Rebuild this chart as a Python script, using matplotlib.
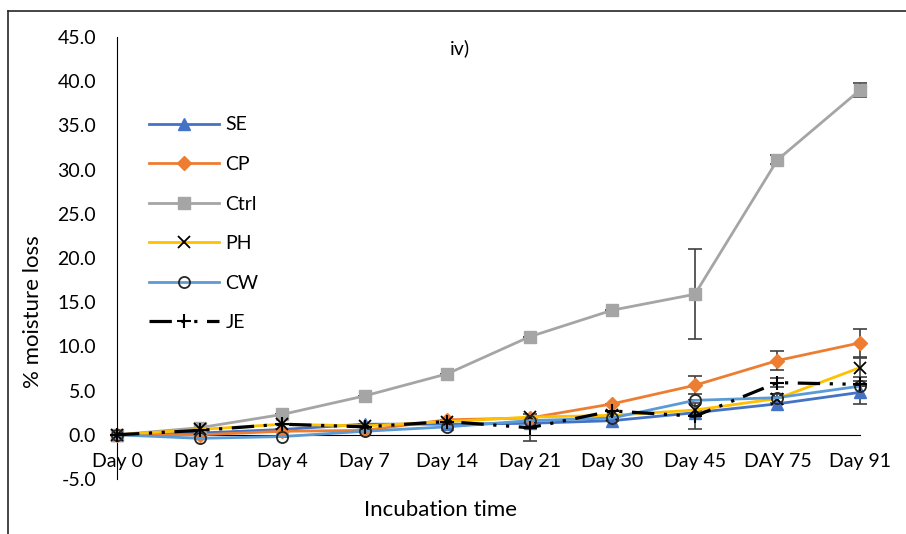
import numpy as np
import matplotlib
matplotlib.use('Agg')
import matplotlib.pyplot as plt
from matplotlib.lines import Line2D

plt.rcParams['font.family'] = ['Lato', 'DejaVu Sans']

days = ['Day 0', 'Day 1', 'Day 4', 'Day 7', 'Day 14', 'Day 21', 'Day 30', 'Day 45', 'DAY 75', 'Day 91']

SE = [0, 0.2, 0.6, 1.2, 1.2, 1.3, 1.6, 2.5, 3.5, 4.8]
CP = [0, 0.0, 0.4, 0.5, 1.7, 1.9, 3.5, 5.6, 8.4, 10.4]
Ctrl = [0, 0.8, 2.3, 4.4, 6.9, 11.1, 14.1, 15.9, 31.1, 39.0]
PH = [0, 0.6, 1.2, 1.0, 1.5, 2.0, 2.2, 2.8, 4.1, 7.6]
CW = [0, -0.4, -0.2, 0.4, 0.9, 1.6, 1.9, 3.9, 4.2, 5.5]
JE = [0, 0.5, 1.2, 0.9, 1.5, 0.8, 2.7, 2.1, 5.9, 5.7]

SE_err = [0, 0, 0, 0, 0, 0, 0, 0, 0, 1.3]
CP_err = [0, 0, 0, 0, 0, 0, 0, 1.0, 1.1, 1.6]
Ctrl_err = [0, 0, 0, 0, 0, 0, 0, 5.1, 0.5, 0.8]
PH_err = [0, 0, 0, 0, 0, 0, 0, 0, 0.5, 1.1]
CW_err = [0, 0, 0, 0, 0, 0, 0, 0, 0, 0]
JE_err = [0, 0, 0, 0, 0, 1.5, 0, 1.5, 0.5, 0]

series = [
    ('SE', SE, SE_err, dict(color='#4472C4', marker='^', ms=9, mfc='#4472C4', mec='#4472C4', lw=2)),
    ('CP', CP, CP_err, dict(color='#ED7D31', marker='D', ms=7.5, mfc='#ED7D31', mec='#ED7D31', lw=2)),
    ('Ctrl', Ctrl, Ctrl_err, dict(color='#A5A5A5', marker='s', ms=9, mfc='#A5A5A5', mec='#A5A5A5', lw=2)),
    ('PH', PH, PH_err, dict(color='#FFC000', marker='x', ms=8, mfc='black', mec='black', mew=1.3, lw=2)),
    ('CW', CW, CW_err, dict(color='#5B9BD5', marker='o', ms=8, mfc='none', mec='#262626', mew=1.3, lw=2)),
    ('JE', JE, JE_err, dict(color='black', marker='+', ms=10, mfc='black', mec='black', mew=1.5, lw=2.3,
                            dashes=(7, 3, 1, 3, 1, 3))),
]

fig = plt.figure(figsize=(9.06, 5.34), dpi=100)
ax = fig.add_axes([117 / 906, 1 - 479 / 534, (860 - 117) / 906, (479 - 37) / 534])

x = np.arange(len(days))
handles = []
for name, vals, err, style in series:
    ax.errorbar(x, vals, yerr=err, fmt='none', ecolor='#404040', elinewidth=1.2,
                capsize=5, capthick=1.2, clip_on=False, zorder=2)
    line, = ax.plot(x, vals, label=name, clip_on=False, zorder=3, **style)
    handles.append(line)

ax.set_xlim(0, 9)
ax.set_ylim(-5, 45)
ax.set_yticks(np.arange(-5, 46, 5))
ax.set_yticklabels(['%.1f' % v for v in np.arange(-5, 46, 5)])
ax.set_xticks(x)
ax.set_xticklabels(days)
ax.tick_params(axis='both', length=0, labelsize=14, colors='black')
ax.tick_params(axis='x', pad=13)
ax.tick_params(axis='y', pad=15)

ax.spines['top'].set_visible(False)
ax.spines['right'].set_visible(False)
ax.spines['bottom'].set_position(('data', 0))
ax.spines['bottom'].set_color('black')
ax.spines['left'].set_color('black')
ax.spines['bottom'].set_zorder(1)

fig.text(460 / 906, 1 - 48 / 534, 'iv)', ha='center', va='center', fontsize=14)
fig.text(33 / 906, 1 - 312 / 534, '% moisture loss', rotation=90, ha='center', va='center', fontsize=16)
fig.text(440 / 906, 1 - 510 / 534, 'Incubation time', ha='center', va='center', fontsize=16)

fig.legend(handles=handles, loc='upper left', bbox_to_anchor=(131 / 906, 1 - 99 / 534),
           frameon=False, fontsize=14, handlelength=3.6, handletextpad=0.36, labelspacing=1.16)

# chart frame (only top and left edges visible in the crop)
fig.add_artist(Line2D([8 / 906, 1], [1 - 11 / 534, 1 - 11 / 534], color='#262626', lw=1.2))
fig.add_artist(Line2D([8 / 906, 8 / 906], [0, 1 - 11 / 534], color='#262626', lw=1.2))

fig.savefig('out.png', dpi=100)
